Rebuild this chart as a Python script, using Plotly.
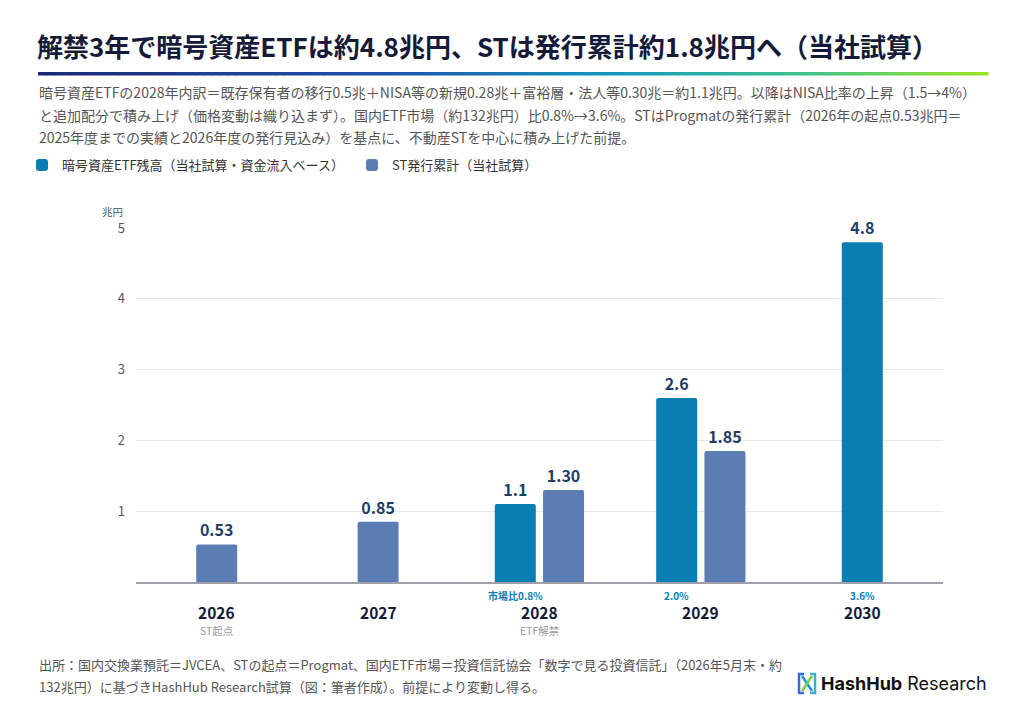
import plotly.graph_objects as go

# ---------------- data ----------------
years = ["2026", "2027", "2028", "2029", "2030"]
etf_years = ["2028", "2029", "2030"]
etf_values = [1.1, 2.6, 4.8]
etf_labels = ["1.1", "2.6", "4.8"]
st_years = ["2026", "2027", "2028", "2029"]
st_values = [0.53, 0.85, 1.30, 1.85]
st_labels = ["0.53", "0.85", "1.30", "1.85"]
share_years = ["2028", "2029", "2030"]
share_labels = ["市場比0.8%", "2.0%", "3.6%"]
sub_labels = {"2026": "ST起点", "2028": "ETF解禁"}
y_ticks = [1, 2, 3, 4, 5]

title = "解禁3年で暗号資産ETFは約4.8兆円、STは発行累計約1.8兆円へ（当社試算）"
subtitle = [
    "暗号資産ETFの2028年内訳＝既存保有者の移行0.5兆＋NISA等の新規0.28兆＋富裕層・法人等0.30兆＝約1.1兆円。以降はNISA比率の上昇（1.5→4%）",
    "と追加配分で積み上げ（価格変動は織り込まず）。国内ETF市場（約132兆円）比0.8%→3.6%。STはProgmatの発行累計（2026年の起点0.53兆円＝",
    "2025年度までの実績と2026年度の発行見込み）を基点に、不動産STを中心に積み上げた前提。",
]
footer = [
    "出所：国内交換業預託＝JVCEA、STの起点＝Progmat、国内ETF市場＝投資信託協会「数字で見る投資信託」（2026年5月末・約",
    "132兆円）に基づきHashHub Research試算（図：筆者作成）。前提により変動し得る。",
]

# ---------------- styling ----------------
W, H = 1024, 719
L, R, T, B = 136, 943, 228, 582
FONT = "Noto Sans CJK JP"
C_ETF = "#0a7db3"
C_ST = "#5b7db3"
C_LBL = "#1f3d66"
C_NAVY = "#141a38"

BW = 0.254
single_off = -BW / 2
pair_left = -0.277
pair_right = 0.022


def etf_off(y):
    return pair_left if y in st_years else single_off


def st_off(y):
    return pair_right if y in etf_years else single_off


def px(x):
    return (x - L) / (R - L)


def py(y):
    return (B - y) / (B - T)


fig = go.Figure()
fig.add_trace(go.Bar(
    x=etf_years, y=etf_values, name="暗号資産ETF残高（当社試算・資金流入ベース）",
    marker=dict(color=C_ETF, cornerradius=2, line=dict(width=0)),
    width=BW, offset=[etf_off(y) for y in etf_years],
    text=etf_labels, textposition="outside", cliponaxis=False,
    textfont=dict(family=FONT, size=16, color=C_LBL, weight="bold"),
))
fig.add_trace(go.Bar(
    x=st_years, y=st_values, name="ST発行累計（当社試算）",
    marker=dict(color=C_ST, cornerradius=2, line=dict(width=0)),
    width=BW, offset=[st_off(y) for y in st_years],
    text=st_labels, textposition="outside", cliponaxis=False,
    textfont=dict(family=FONT, size=16, color=C_LBL, weight="bold"),
))

ann = []
for y in years:
    ann.append(dict(x=years.index(y), y=0, xref="x", yref="paper", text="<b>" + y + "</b>",
                    showarrow=False, yanchor="middle", yshift=-30, borderpad=0,
                    font=dict(family=FONT, size=15.5, color=C_NAVY)))
for y, t in sub_labels.items():
    ann.append(dict(x=years.index(y), y=0, xref="x", yref="paper", text=t,
                    showarrow=False, yanchor="middle", yshift=-48, borderpad=0,
                    font=dict(family=FONT, size=10.5, color="#9a9a9a")))
for y, t in zip(share_years, share_labels):
    ann.append(dict(x=years.index(y) + etf_off(y) + BW / 2, y=0, xref="x", yref="paper",
                    text="<b>" + t + "</b>", borderpad=0,
                    showarrow=False, yanchor="middle", yshift=-13,
                    font=dict(family=FONT, size=10, color=C_ETF)))
ann.append(dict(x=px(124), y=py(211), xref="paper", yref="paper", text="兆円",
                showarrow=False, xanchor="right", yanchor="middle", borderpad=0,
                font=dict(family=FONT, size=10.5, color="#555")))
for i, line in enumerate(subtitle):
    ann.append(dict(x=px(37), y=py(92 + 22.5 * i), xref="paper", yref="paper",
                    text=line, showarrow=False, xanchor="left", yanchor="middle",
                    font=dict(family=FONT, size=14, color="#555")))
for i, line in enumerate(footer):
    ann.append(dict(x=px(37), y=py(664 + 22 * i), xref="paper", yref="paper",
                    text=line, showarrow=False, xanchor="left", yanchor="middle",
                    font=dict(family=FONT, size=13, color="#555")))
ann.append(dict(x=px(989), y=py(683), xref="paper", yref="paper",
                text="<b>HashHub</b> Research", showarrow=False, xanchor="right",
                yanchor="middle", font=dict(family="Inter", size=18, color="#111")))

shapes = []
stops = [(0.0, (28, 40, 120)), (0.35, (30, 80, 170)), (0.6, (20, 150, 190)),
         (0.8, (60, 195, 140)), (1.0, (160, 230, 30))]


def grad(t):
    for (t0, c0), (t1, c1) in zip(stops[:-1], stops[1:]):
        if t <= t1:
            f = (t - t0) / (t1 - t0)
            return "rgb(%d,%d,%d)" % tuple(round(c0[k] + (c1[k] - c0[k]) * f) for k in range(3))
    return "rgb(%d,%d,%d)" % stops[-1][1]


x0, x1, n = 38, 988, 120
for i in range(n):
    a = x0 + (x1 - x0) * i / n
    b = x0 + (x1 - x0) * (i + 1) / n + 0.6
    shapes.append(dict(type="rect", xref="paper", yref="paper",
                       x0=px(a), x1=px(b), y0=py(72), y1=py(75.5),
                       line=dict(width=0), fillcolor=grad(i / n), layer="above"))


def P(x, y):
    return "%.4f,%.4f" % (px(x), py(y))


icon = [
    ("M" + P(804, 674) + "L" + P(799, 674) + "L" + P(799, 693) + "L" + P(804, 693), "#2f6fd8"),
    ("M" + P(810, 674) + "L" + P(815, 674) + "L" + P(815, 693) + "L" + P(810, 693), "#3ab0d0"),
    ("M" + P(802, 676) + "L" + P(812, 691), "#2090e0"),
    ("M" + P(812, 676) + "L" + P(802, 691), "#7ad040"),
]
for path, col in icon:
    shapes.append(dict(type="path", xref="paper", yref="paper", path=path,
                       line=dict(color=col, width=2.5)))

fig.update_layout(
    width=W, height=H,
    margin=dict(l=L, r=W - R, t=T, b=H - B, pad=0),
    paper_bgcolor="white", plot_bgcolor="white",
    barmode="overlay",
    font=dict(family=FONT, color="#333"),
    title=dict(text="<b>" + title + "</b>", xref="container", yref="container",
               x=37 / W, y=1 - 48 / H, xanchor="left", yanchor="middle",
               font=dict(family=FONT, size=26, color=C_NAVY)),
    legend=dict(orientation="h", xref="container", yref="container",
                x=22 / W, y=1 - 165 / H, xanchor="left", yanchor="middle",
                entrywidth=285, entrywidthmode="pixels",
                font=dict(family=FONT, size=13, color="#333"),
                traceorder="normal"),
    xaxis=dict(type="category", categoryorder="array", categoryarray=years,
               range=[-0.5, 4.5], showticklabels=False, ticks="",
               showline=True, linecolor="#a0a0a8", linewidth=1.5,
               showgrid=False, zeroline=False, fixedrange=True),
    yaxis=dict(range=[0, 5], tickvals=y_ticks, ticktext=[str(v) for v in y_ticks],
               showgrid=True, gridcolor="#e6e7ee", gridwidth=1, zeroline=False,
               showline=False, ticks="", ticklabelstandoff=10,
               tickfont=dict(family=FONT, size=13, color="#555")),
    annotations=ann,
    shapes=shapes,
)

fig.write_html("out.html", config={"displayModeBar": False},
               post_script="document.body.style.margin='0';")
